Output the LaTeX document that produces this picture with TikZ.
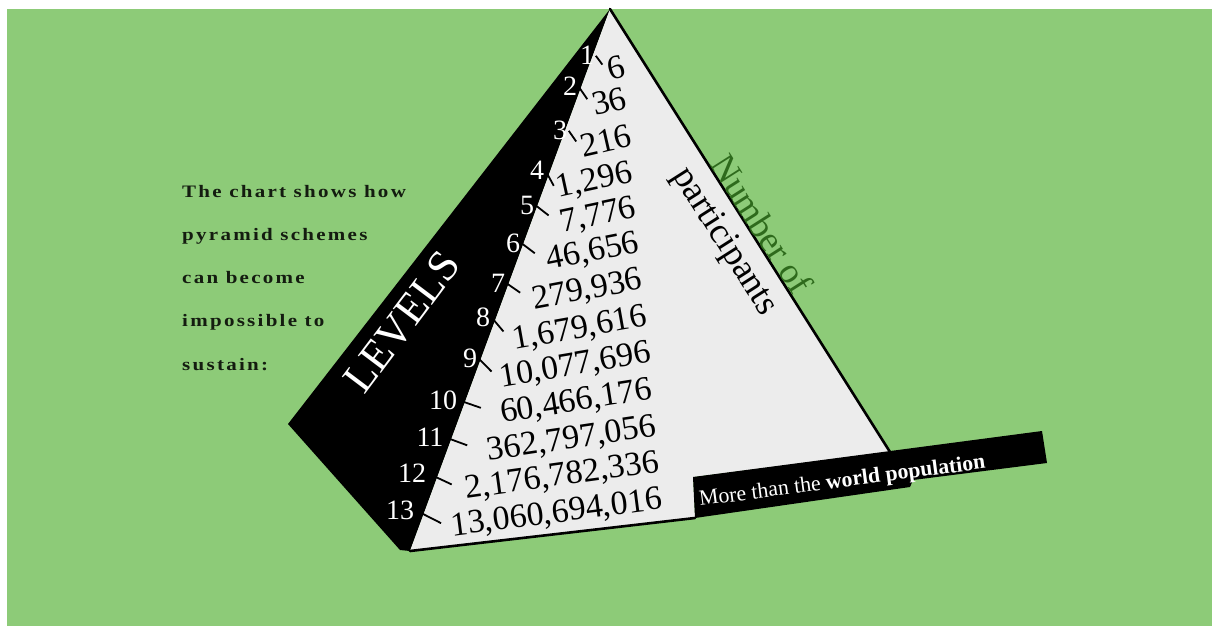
\documentclass[tikz,border=0pt]{standalone}
\usepackage{fontspec}
\setmainfont{Liberation Serif}
\newfontfamily\spacedfont[FakeStretch=1.2,LetterSpace=13]{Liberation Serif}
\usetikzlibrary{calc}
\definecolor{bg}{HTML}{8DCB78}
\definecolor{face}{HTML}{ECECEC}
\definecolor{darkgreen}{HTML}{2E6A1C}
\definecolor{ink}{HTML}{141C10}
\begin{document}
\begin{tikzpicture}[x=1pt,y=-1pt,
  lvl/.style={text=white,font=\fontsize{28}{28}\selectfont,inner sep=1pt},
  cnt/.style={text=black,font=\fontsize{34}{34}\selectfont,inner sep=1pt,anchor=east},
  tickline/.style={line width=1.8pt,shorten <=1pt},
  rim/.style={line width=2.6pt,line cap=round},
  para/.style={text=ink,anchor=base west,inner sep=0pt,font=\spacedfont\bfseries\fontsize{17.5}{17.5}\selectfont},
  slanted/.style={font=\fontsize{36}{36}\selectfont,rotate=-57.5,inner sep=0pt}
]
\useasboundingbox (0,0) rectangle (1212,634);
\fill[white] (0,0) rectangle (1212,634);
\fill[bg] (7,9) rectangle (1212,626);

% pyramid
\coordinate (apex) at (610,9);
\coordinate (lft) at (288,424);
\coordinate (btip) at (400,550);
\coordinate (bl) at (410,551);
\coordinate (br) at (890,452);
% banner corners
\coordinate (b1) at (693,477);
\coordinate (b2) at (1042,431);
\coordinate (b3) at (1047,463);
\coordinate (b4) at (913,480);
\coordinate (b5) at (910,487);
\coordinate (b6) at (695,518);

\fill[black] (apex) -- (lft) -- (btip) -- (bl) -- cycle;
\fill[face] (apex) -- (bl) -- (b6) -- (b1) -- (br) -- cycle;
\draw[rim] (apex) -- (br);
\draw[rim] (bl) -- (b6);

% banner
\fill[black] (b1) -- (b2) -- (b3) -- (b4) -- (b5) -- (b6) -- cycle;
\node[anchor=base west,rotate=7.5,text=white,inner sep=0pt,font=\fontsize{21.8}{21.8}\selectfont] (ban) at (700,506) {More than the \textbf{world population}};

% labels
\node[text=white,font=\fontsize{44}{44}\selectfont,rotate=53,inner sep=0pt] (levels) at (402,322) {LEVELS};
\node[slanted,text=darkgreen] (numof) at (762,224) {Number of};
\node[slanted,text=black] (part) at (724,242) {participants};

% paragraph
\node[para] (t1) at (182,197) {The chart shows how};
\node[para] (t2) at (182,240) {pyramid schemes};
\node[para] (t3) at (182,283) {can become};
\node[para] (t4) at (182,326) {impossible to};
\node[para] (t5) at (182,370) {sustain:};

% levels and counts
\node[lvl] (w1) at (587,55) {1};
\node[cnt,rotate=14.0] (c1) at (625,65) {6};
\node[lvl] (w2) at (570,86) {2};
\node[cnt,rotate=13.4] (c2) at (627,97) {36};
\node[lvl] (w3) at (560,130) {3};
\node[cnt,rotate=12.9] (c3) at (632,135) {216};
\node[lvl] (w4) at (537,170) {4};
\node[cnt,rotate=12.3] (c4) at (633,173) {1,296};
\node[lvl] (w5) at (527,205) {5};
\node[cnt,rotate=11.8] (c5) at (637,208) {7,776};
\node[lvl] (w6) at (513,243) {6};
\node[cnt,rotate=11.2] (c6) at (640,243) {46,656};
\node[lvl] (w7) at (498,283) {7};
\node[cnt,rotate=10.7] (c7) at (643,280) {279,936};
\node[lvl] (w8) at (483,317) {8};
\node[cnt,rotate=10.1] (c8) at (648,317) {1,679,616};
\node[lvl] (w9) at (470,358) {9};
\node[cnt,rotate=9.6] (c9) at (652,353) {10,077,696};
\node[lvl] (w10) at (443,400) {10};
\node[cnt,rotate=9.0] (c10) at (653,390) {60,466,176};
\node[lvl] (w11) at (430,437) {11};
\node[cnt,rotate=8.5] (c11) at (657,427) {362,797,056};
\node[lvl] (w12) at (412,473) {12};
\node[cnt,rotate=7.9] (c12) at (660,463) {2,176,782,336};
\node[lvl] (w13) at (400,510) {13};
\node[cnt,rotate=7.4] (c13) at (663,500) {13,060,694,016};
\foreach \k/\len in {1/12,2/16,3/14,4/18,5/17,6/17,7/17,8/19,9/19,10/24,11/24,12/27,13/29} {
  \draw[tickline] (w\k.east) -- ($(w\k.east)!\len pt!(c\k.west)$);
}
\end{tikzpicture}
\end{document}
